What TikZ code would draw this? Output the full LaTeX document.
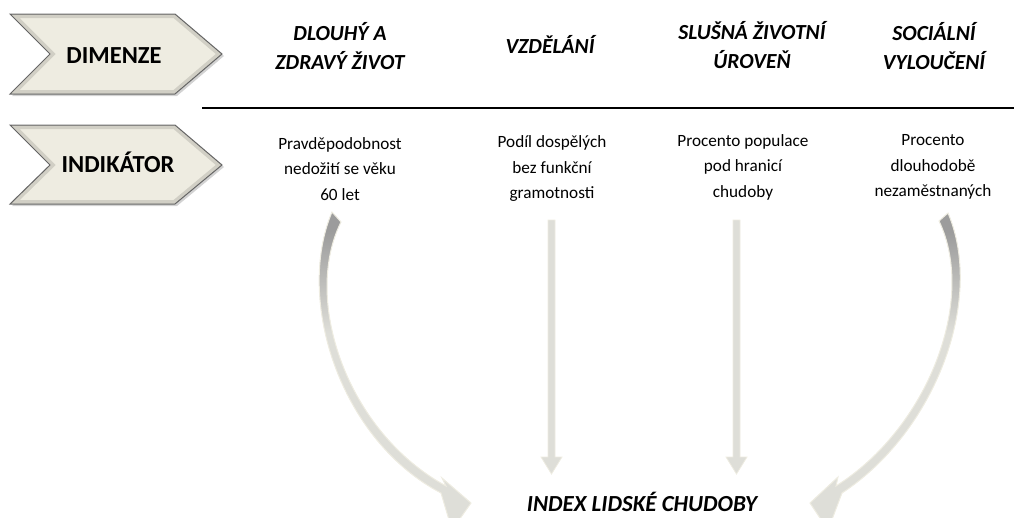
\documentclass[tikz,border=0pt]{standalone}
\usepackage{fontspec}
\setmainfont{Carlito}
\usetikzlibrary{shadows}
\definecolor{beige}{HTML}{EEECE1}
\definecolor{chevborder}{HTML}{6E6E6E}
\definecolor{arrowlight}{HTML}{DEDED8}
\definecolor{arrowdark}{HTML}{9C9C9C}
\definecolor{txt}{HTML}{000000}
\pgfdeclareverticalshading{arrowfade}{100bp}{color(0bp)=(arrowlight); color(56bp)=(arrowlight); color(72bp)=(arrowdark); color(100bp)=(arrowdark)}
\tikzset{
  chev/.style={fill=beige, draw=chevborder, line width=1pt,
     drop shadow={shadow xshift=2pt, shadow yshift=-2pt, opacity=0.35}},
  chevtext/.style={font=\fontsize{24.5}{28}\selectfont\bfseries, text=txt},
  head/.style={font=\fontsize{21.5}{29.5}\selectfont\bfseries\itshape, text=txt, align=center},
  indic/.style={font=\fontsize{17.2}{25.5}\selectfont, text=txt, align=center},
  straightarrow/.style={fill=arrowlight, draw=beige, line width=0.8pt},
  curvedarrow/.style={shading=arrowfade, draw=beige, line width=1pt},
}
\begin{document}
\begin{tikzpicture}[x=1pt,y=-1pt]
\useasboundingbox (0,0) rectangle (1014,517);
\clip (0,0) rectangle (1014,517);

% chevrons
\path[chev] (10,14) -- (175,14) -- (222,54) -- (175,94) -- (10,94) -- (50,54) -- cycle;
\begin{scope}
\clip (10,14) -- (175,14) -- (222,54) -- (175,94) -- (10,94) -- (50,54) -- cycle;
\draw[black, opacity=0.12, line width=8pt] (10,14) -- (175,14) -- (222,54) -- (175,94) -- (10,94) -- (50,54) -- cycle;
\end{scope}
\node[chevtext] (dim) at (114,56) {DIMENZE};

\path[chev] (10,125) -- (175,125) -- (222,165) -- (175,204) -- (10,204) -- (50,165) -- cycle;
\begin{scope}
\clip (10,125) -- (175,125) -- (222,165) -- (175,204) -- (10,204) -- (50,165) -- cycle;
\draw[black, opacity=0.12, line width=8pt] (10,125) -- (175,125) -- (222,165) -- (175,204) -- (10,204) -- (50,165) -- cycle;
\end{scope}
\node[chevtext] (ind) at (118,162) {INDIKÁTOR};

% rule
\coordinate (ruleL) at (202,108);
\coordinate (ruleR) at (1014,108);
\draw[line width=2.6pt, txt] (ruleL) -- (ruleR);

% headings
\node[head] (h1) at (340,46) {DLOUHÝ A\\ZDRAVÝ ŽIVOT};
\node[head] (h2) at (550,44) {VZDĚLÁNÍ};
\node[head] (h3) at (752,45) {SLUŠNÁ ŽIVOTNÍ\\ÚROVEŇ};
\node[head] (h4) at (934,46) {SOCIÁLNÍ\\VYLOUČENÍ};

% indicators
\node[indic] (i1) at (340,169) {Pravděpodobnost\\nedožití se věku\\60 let};
\node[indic] (i2) at (552,169) {Podíl dospělých\\bez funkční\\gramotnosti};
\node[indic] (i3) at (743,167) {Procento populace\\pod hranicí\\chudoby};
\node[indic] (i4) at (933,167) {Procento\\dlouhodobě\\nezaměstnaných};

% index
\node[font=\fontsize{23}{26}\selectfont\bfseries\itshape, text=txt] (idx) at (642,502) {INDEX LIDSKÉ CHUDOBY};

% straight arrows
\path[straightarrow] (548,220) -- (555,220) -- (555,457) -- (562,457) -- (551.5,474) -- (541,457) -- (548,457) -- cycle;
\path[straightarrow] (733,220) -- (740,220) -- (740,457) -- (747,457) -- (736.5,474) -- (726,457) -- (733,457) -- cycle;

% left curved arrow
\path[curvedarrow] (332,212) .. controls (295,300) and (340,440) .. (441,493)
   -- (452,530) -- (471,503) -- (442,478) -- (446,486)
   .. controls (347,432) and (302,300) .. (341,222) -- cycle;

% right curved arrow
\path[curvedarrow] (948,213) .. controls (985,300) and (935,432) .. (842,493)
   -- (828,530) -- (810,503) -- (838,477) -- (836,486)
   .. controls (928,428) and (977,300) .. (939,221) -- cycle;

\end{tikzpicture}
\end{document}
